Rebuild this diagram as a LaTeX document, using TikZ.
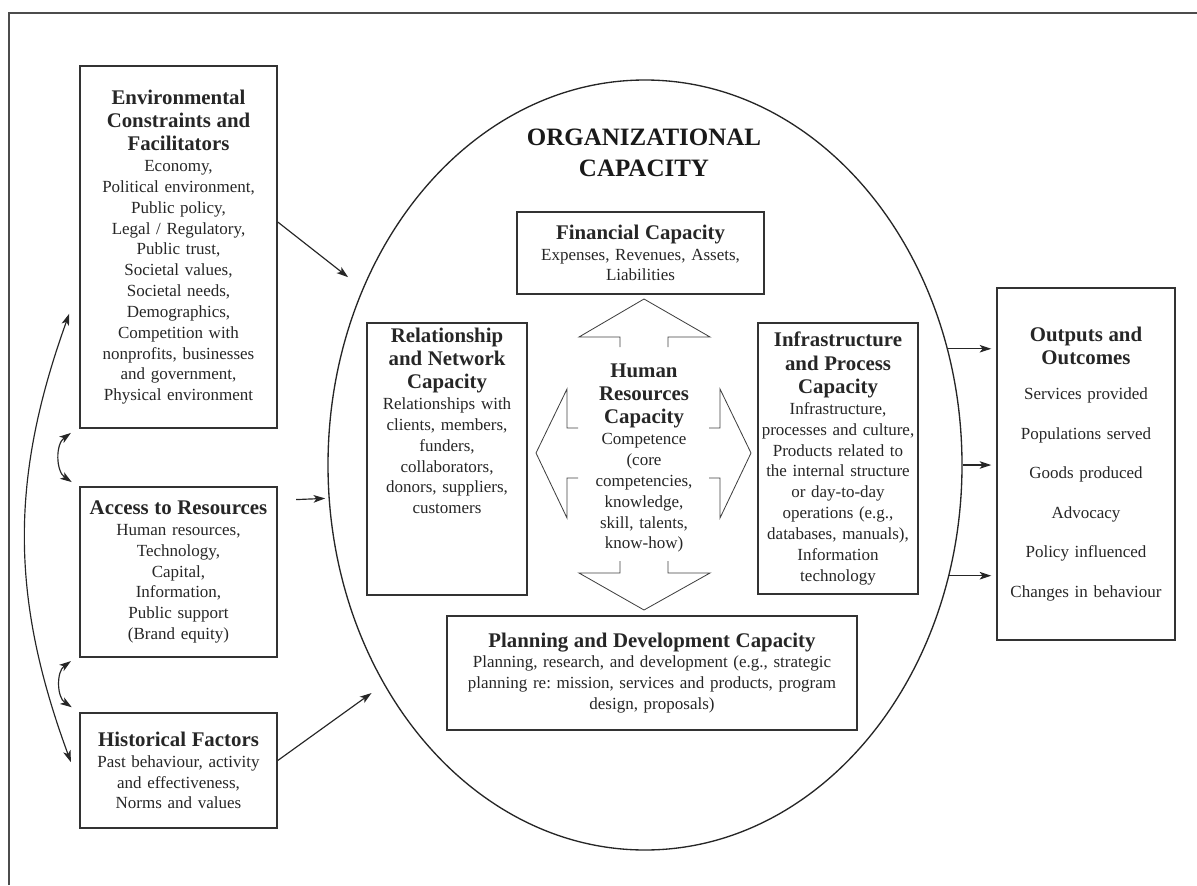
\documentclass[tikz,border=0pt]{standalone}
\usepackage{fontspec}
\setmainfont{Liberation Serif}
\usetikzlibrary{arrows,arrows.meta,shapes.geometric}
\setlength{\parindent}{0pt}
\frenchspacing

\newcommand{\ttl}[1]{{\fontsize{12.5}{14}\selectfont\bfseries #1\par}}

\begin{document}
\begin{tikzpicture}[x=0.6pt, y=-0.6pt,
  box/.style={draw=black!80, line width=0.9pt, align=center, inner sep=2pt,
    font=\fontsize{10.2}{12.5}\selectfont, text=black!85},
  arr/.style={-{Stealth[length=7pt, width=4.6pt, inset=1.8pt]}, line width=0.7pt, black!85},
  dbl/.style={{Stealth[length=7pt, width=4.6pt, inset=1.8pt]}-{Stealth[length=7pt, width=4.6pt, inset=1.8pt]}, line width=0.7pt, black!85},
  hollow/.style={line width=0.5pt, black!75}]

  \useasboundingbox (0,0) rectangle (1197,885);
  \draw[line width=1pt, black!70] (9,885) -- (9,13) -- (1197,13);

  \node[draw=black!85, line width=0.8pt, ellipse, minimum width=380.4pt,
    minimum height=462pt, inner sep=0] (org) at (645,465) {};
  \node[align=center, font=\fontsize{15}{19}\selectfont\bfseries, text=black!90]
    (orgtitle) at (644,153) {ORGANIZATIONAL\\CAPACITY};

  \node[box, text width=114.2pt, minimum height=217.2pt] (env) at (178.5,247)
    {\ttl{Environmental\\Constraints and\\Facilitators}Economy,\\Political environment,\\Public policy,\\Legal / Regulatory,\\Public trust,\\Societal values,\\Societal needs,\\Demographics,\\Competition with\\nonprofits, businesses\\and government,\\Physical environment};
  \node[box, text width=114.2pt, minimum height=102pt] (acc) at (178.5,572)
    {\ttl{Access to Resources}Human resources,\\Technology,\\Capital,\\Information,\\Public support\\(Brand equity)};
  \node[box, text width=114.2pt, minimum height=69pt] (hist) at (178.5,770.5)
    {\ttl{Historical Factors}Past behaviour, activity\\and effectiveness,\\Norms and values};

  \node[box, text width=144.2pt, minimum height=49.2pt] (fin) at (640.5,253)
    {\ttl{Financial Capacity}Expenses, Revenues, Assets,\\Liabilities};
  \node[box, text width=92pt, minimum height=163.2pt] (rel) at (447,459)
    {\ttl{Relationship\\and Network\\Capacity}Relationships with\\clients, members,\\funders,\\collaborators,\\donors, suppliers,\\customers\rule[-46pt]{0pt}{46pt}};
  \node[box, text width=92pt, minimum height=162.6pt] (inf) at (838,458.5)
    {\ttl{Infrastructure\\and Process\\Capacity}Infrastructure,\\processes and culture,\\Products related to\\the internal structure\\or day-to-day\\operations (e.g.,\\databases, manuals),\\Information\\technology};
  \node[box, text width=242pt, minimum height=68.4pt] (plan) at (652,673)
    {\ttl{Planning and Development Capacity}Planning, research, and development (e.g., strategic\\planning re: mission, services and products, program\\design, proposals)};
  \node[box, draw=none, text width=90pt] (hr) at (644,458)
    {\ttl{Human\\Resources\\Capacity}Competence\\(core\\competencies,\\knowledge,\\skill, talents,\\know-how)};

  \node[box, text width=102.8pt, minimum height=211.2pt] (out) at (1086,464)
    {\ttl{Outputs and\\Outcomes}\vspace{8.5pt}Services provided\\[11.2pt]Populations served\\[11.2pt]Goods produced\\[11.2pt]Advocacy\\[11.2pt]Policy influenced\\[11.2pt]Changes in behaviour};

  \draw[hollow] (620,347) -- (620,337) -- (579,337) -- (644,299) -- (710,337) -- (668,337) -- (668,347);
  \draw[hollow] (620,561) -- (620,573) -- (579,573) -- (644,610) -- (710,573) -- (668,573) -- (668,561);
  \draw[hollow] (578,428) -- (567,428) -- (567,389) -- (536,453) -- (567,518) -- (567,478) -- (578,478);
  \draw[hollow] (709,428) -- (720,428) -- (720,389) -- (751,453) -- (720,518) -- (720,478) -- (709,478);

  \draw[arr, shorten >=11pt] ([yshift=15pt]env.east) -- (org.148);
  \draw[arr, shorten >=2pt] ([xshift=11pt,yshift=-8pt]acc.north east) -- (org.186);
  \draw[arr, shorten >=9pt] ([yshift=6pt]hist.east) -- (org.220);

  \draw[arr, shorten >=3pt] (org.21) -- (org.21 -| out.west);
  \draw[arr, shorten >=3pt] (org.0) -- (org.0 -| out.west);
  \draw[arr, shorten >=3pt] (org.-20) -- (org.-20 -| out.west);

  \draw[dbl] ([xshift=-6pt,yshift=-40pt]env.west) to[bend right=20] ([xshift=-5pt,yshift=5pt]hist.west);
  \draw[dbl] ([xshift=-5pt,yshift=-2.5pt]env.south west) to[bend right=55] ([xshift=-4.5pt,yshift=2.5pt]acc.north west);
  \draw[dbl] ([xshift=-5pt,yshift=-2pt]acc.south west) to[bend right=55] ([xshift=-4.5pt,yshift=3pt]hist.north west);

\end{tikzpicture}
\end{document}
